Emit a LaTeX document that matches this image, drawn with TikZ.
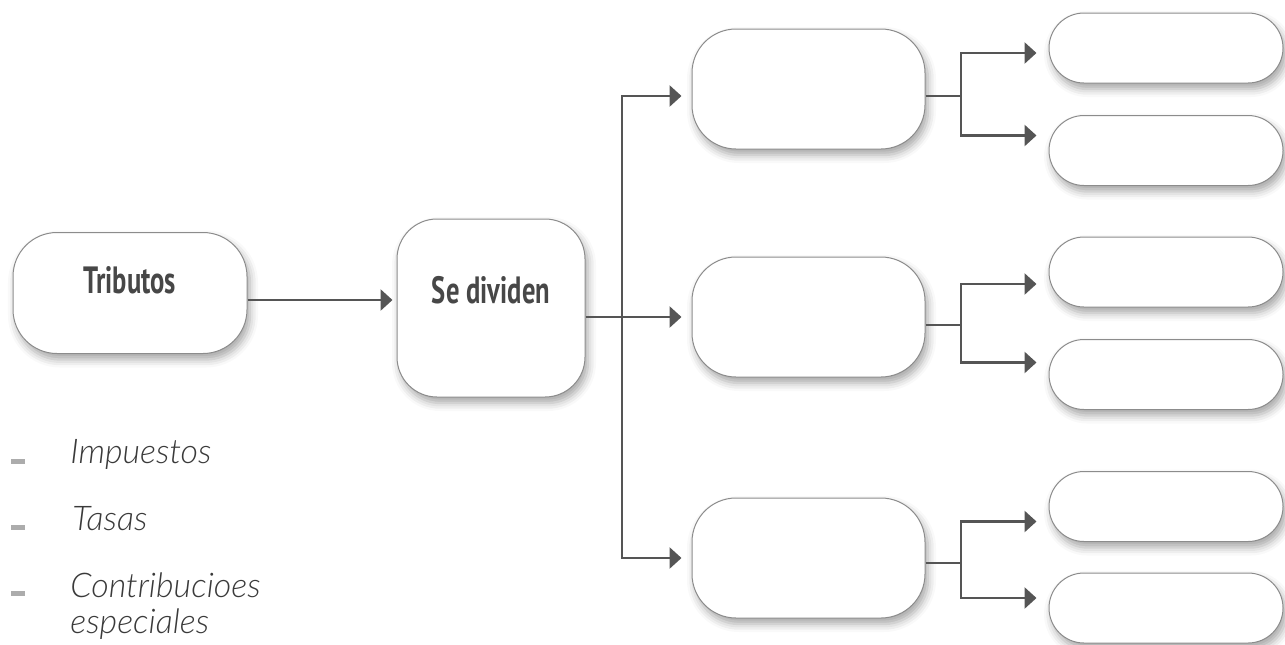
\documentclass[tikz,border=0pt]{standalone}
\usepackage{fontspec}
\newfontfamily\headfont[FakeStretch=0.7]{PT Sans}
\newfontfamily\listfont[ItalicFont={Lato Light Italic}]{Lato Light}
\usetikzlibrary{arrows.meta,shadows.blur,calc}
\definecolor{arrgray}{HTML}{555555}
\definecolor{edgegray}{HTML}{8C8C8C}
\definecolor{headgray}{HTML}{474747}
\definecolor{listgray}{HTML}{3A3A3A}
\tikzset{
  card/.style={draw=edgegray, line width=0.5pt, fill=white,
    blur shadow={shadow xshift=1.5pt, shadow yshift=-3pt, shadow blur radius=4pt, shadow opacity=35}},
  head/.style={font=\headfont\bfseries\fontsize{19}{21}\selectfont, text=headgray},
  item/.style={font=\listfont\itshape\fontsize{17}{18}\selectfont, text=listgray, anchor=base west, align=left, inner sep=0pt},
  line/.style={draw=arrgray, line width=1.4pt},
  arr/.style={line, -{Triangle[length=6pt, width=10.5pt]}}
}
\begin{document}
\begin{tikzpicture}[x=0.5pt, y=-0.5pt, line join=miter]
\useasboundingbox (0,0) rectangle (1285,644);
% left part
\node[card, rounded corners=22pt, minimum width=117pt, minimum height=60.5pt,
  label={[head, yshift=6.5pt]center:Tributos}] (trib) at (130,293) {};
\node[card, rounded corners=20pt, minimum width=94pt, minimum height=89pt,
  label={[head, yshift=9pt]center:Se dividen}] (div) at (491,308) {};
% middle column
\foreach \n/\y in {mid1/89, mid2/317, mid3/558}
  \node[card, rounded corners=22pt, minimum width=116.5pt, minimum height=60pt] (\n) at (808.5,\y) {};
% right column
\foreach \n/\y in {r1/48, r2/150.5, r3/272, r4/374.5, r5/506.5, r6/608}
  \node[card, rounded corners=17.5pt, minimum width=117pt, minimum height=35pt] (\n) at (1166,\y) {};
% connectors
\draw[arr, shorten >=2pt] ([yshift=-3.5pt]trib.east) -- ([yshift=-3.5pt]trib.east -| div.west);
\coordinate (trunk) at (622,317);
\draw[line] (div.east |- trunk) -- (trunk);
\draw[arr, shorten >=5pt] (trunk) -- (mid2.west |- trunk);
\draw[arr, shorten >=5pt] (trunk) |- ([yshift=-3.5pt]mid1.west);
\draw[arr, shorten >=5pt] (trunk) |- (mid3.west);
\foreach \m/\a/\da/\b/\db/\fy in {mid1/r1/-2.5/r2/7.5/96, mid2/r3/-6/r4/6/325, mid3/r5/-7.5/r6/5/563}{
  \coordinate (fork) at (961,\fy);
  \draw[line] (\m.east |- fork) -- (fork);
  \draw[arr, shorten >=6pt] (fork) |- ([yshift=\da pt]\a.west);
  \draw[arr, shorten >=6pt] (fork) |- ([yshift=\db pt]\b.west);
}
% list
\foreach \y in {461, 527, 593}
  \fill[gray!65] (11,\y-2) rectangle (25,\y+3);
\node[item] (imp) at (70,463) {Impuestos};
\node[item] (tas) at (72,530) {Tasas};
\node[item] (con) at (70,633) {Contribucioes\\especiales};
\end{tikzpicture}
\end{document}
